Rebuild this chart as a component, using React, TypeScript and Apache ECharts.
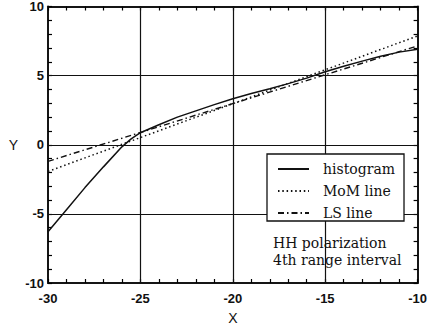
import React, { useEffect, useRef } from "react";
import * as echarts from "echarts";

const histX = [-30, -29, -28, -27, -26, -25.5, -25, -24, -23, -22, -21, -20, -19, -18, -17, -16, -15, -14, -13, -12, -11, -10];
const histY = [-6.3, -4.7, -3.1, -1.6, -0.15, 0.42, 0.87, 1.45, 2.0, 2.45, 2.9, 3.33, 3.7, 4.05, 4.42, 4.82, 5.28, 5.68, 6.05, 6.4, 6.7, 6.9];
const momX = [-30, -10];
const momY = [-1.93, 7.87];
const lsX = [-30, -10];
const lsY = [-1.2, 7.15];
const seriesNames = ["histogram", "MoM line", "LS line"];
const noteLines = ["HH polarization", "4th range interval"];
const gridX = [-25, -20, -15];
const gridY = [-5, 0, 5];
const labelStep = 5;

const INK = "#111111";
const AXIS_INK = "#151515";
const TICK_INK = "#000000";
const labelFont = { fontFamily: "Liberation Sans", fontSize: 13, fontWeight: "bold" as const, color: INK };

function axisBase(min: number, max: number, position: string) {
  return {
    type: "value" as const,
    min,
    max,
    interval: 1,
    position,
    axisLine: { show: true, onZero: false, lineStyle: { color: AXIS_INK, width: 2 } },
    axisTick: { show: true, inside: true, length: 4, lineStyle: { color: TICK_INK, width: 1.2 } },
    splitLine: { show: false },
  };
}

const fmt = (v: number) => (v % labelStep === 0 ? String(v) : "");

export default function App() {
  const ref = useRef<HTMLDivElement>(null);
  useEffect(() => {
    document.body.style.margin = "0";
    const chart = echarts.init(ref.current!, null, { renderer: "svg" });
    const zip = (xs: number[], ys: number[]) => xs.map((x, i) => [x, ys[i]]);
    chart.setOption({
      animation: false,
      backgroundColor: "#fff",
      grid: { left: 48, right: 8, top: 6, bottom: 47 },
      xAxis: [
        {
          ...axisBase(-30, -10, "bottom"),
          axisLabel: { ...labelFont, margin: 9, formatter: fmt },
          name: "X",
          nameLocation: "middle",
          nameGap: 28,
          nameTextStyle: { fontFamily: "Liberation Sans", fontSize: 14, color: INK },
        },
        { ...axisBase(-30, -10, "top"), axisLabel: { show: false } },
      ],
      yAxis: [
        {
          ...axisBase(-10, 10, "left"),
          axisLabel: { ...labelFont, margin: 4, padding: [7, 0, 0, 0], formatter: fmt },
          name: "Y",
          nameLocation: "middle",
          nameRotate: 0,
          nameGap: 30,
          nameTextStyle: { fontFamily: "Liberation Sans", fontSize: 14, color: INK },
        },
        { ...axisBase(-10, 10, "right"), axisLabel: { show: false } },
      ],
      legend: {
        orient: "vertical",
        left: 267,
        top: 154,
        backgroundColor: "#fff",
        borderColor: INK,
        borderWidth: 1.3,
        borderRadius: 0,
        padding: [8, 9, 1, 10],
        itemWidth: 31,
        itemHeight: 12,
        itemGap: 8,
        selectedMode: false,
        data: seriesNames,
        itemStyle: { opacity: 0, borderWidth: 0 },
        textStyle: { fontFamily: "DejaVu Serif", fontSize: 14, color: INK, padding: [0, 0, 0, 9], lineHeight: 12 },
      },
      graphic: [
        {
          type: "text",
          left: 273,
          top: 234,
          style: {
            text: noteLines.join("\n"),
            font: "14px 'DejaVu Serif'",
            lineHeight: 17,
            fill: INK,
          },
        },
      ],
      series: [
        {
          name: seriesNames[0],
          type: "line",
          symbol: "none",
          z: 3,
          data: zip(histX, histY),
          lineStyle: { color: INK, width: 1.5, type: "solid" },
          itemStyle: { color: INK },
          markLine: {
            silent: true,
            symbol: "none",
            animation: false,
            label: { show: false },
            z: 1,
            lineStyle: { color: INK, width: 1.2, type: "solid" },
            data: [...gridX.map((v) => ({ xAxis: v })), ...gridY.map((v) => ({ yAxis: v }))],
          },
        },
        {
          name: seriesNames[1],
          type: "line",
          symbol: "none",
          z: 3,
          data: zip(momX, momY),
          lineStyle: { color: INK, width: 1.5, type: [1.5, 2.8] },
          itemStyle: { color: INK },
        },
        {
          name: seriesNames[2],
          type: "line",
          symbol: "none",
          z: 3,
          data: zip(lsX, lsY),
          lineStyle: { color: INK, width: 1.4, type: [6, 3, 1.5, 3] },
          itemStyle: { color: INK },
        },
      ],
    });
    return () => chart.dispose();
  }, []);
  return <div ref={ref} style={{ width: 430, height: 330 }} />;
}
